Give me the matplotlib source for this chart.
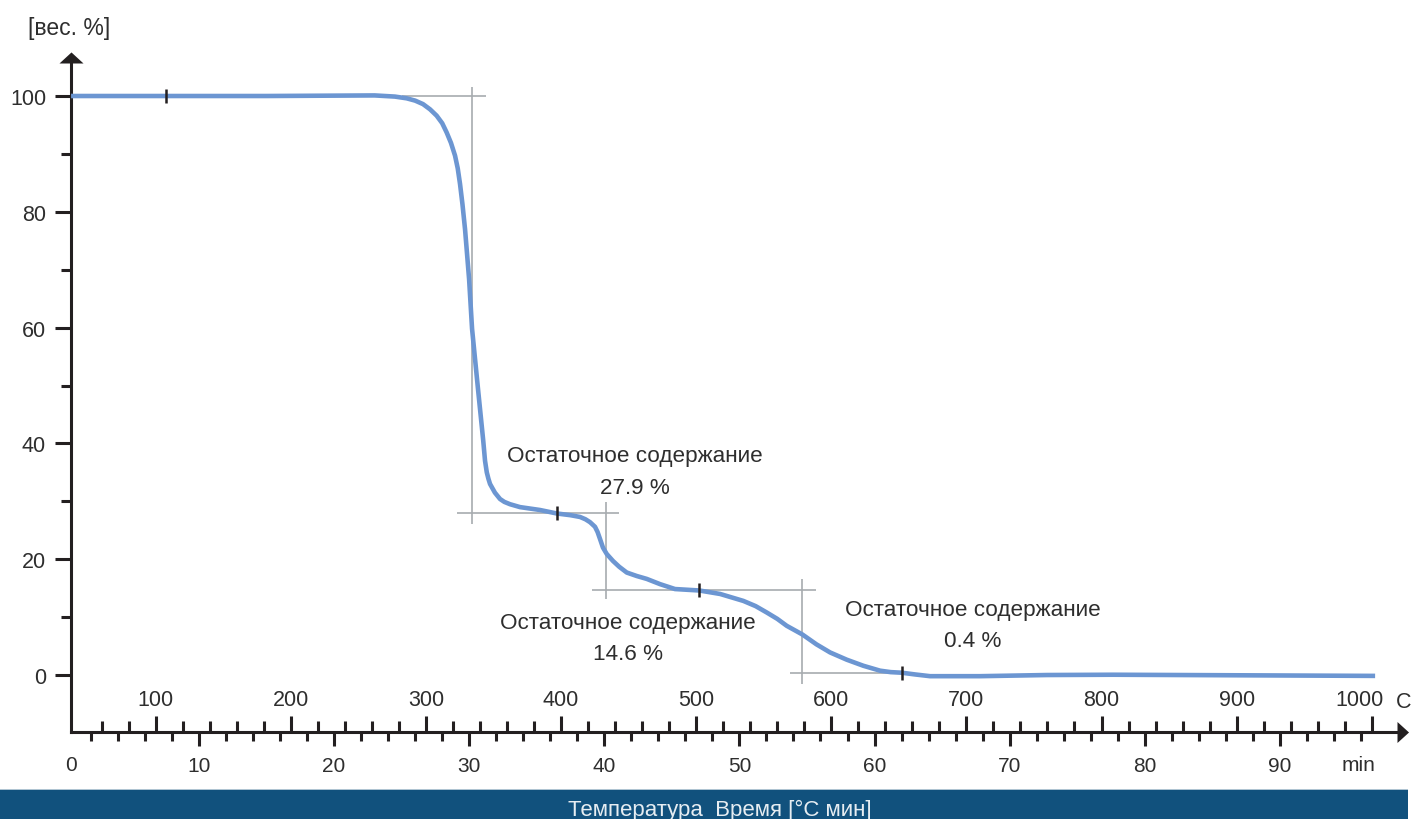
import matplotlib
matplotlib.use("Agg")
import matplotlib.pyplot as plt
from matplotlib.path import Path
from matplotlib.patches import Rectangle
from matplotlib.ticker import FixedLocator
from matplotlib.transforms import ScaledTranslation

plt.rcParams['font.family'] = ['Liberation Sans', 'DejaVu Sans']

# --- TGA curve: remaining mass [wt %] versus time [min] ---
time_min = [0.53, 7.56, 15.0, 23.0, 24.5, 25.37, 26.0, 26.58, 27.1, 27.59,
            28.0, 28.33, 28.65, 28.95, 29.15, 29.32, 29.5, 29.69, 29.99, 30.21,
            30.65, 31.04, 31.17, 31.3, 31.42, 31.54, 31.9, 32.28, 32.6, 33.02,
            33.76, 35.24, 36.48, 37.5, 38.2, 38.6, 38.94, 39.31, 39.5, 39.68,
            39.9, 40.18, 40.64, 41.1, 41.66, 42.4, 43.14, 44.12, 45.23, 47.03,
            48.57, 50.29, 51.2, 52.02, 52.8, 53.5, 54.66, 55.7, 56.71, 57.94,
            59.17, 60.41, 61.2, 62.01, 63.0, 64.11, 67.8, 72.75, 77.65, 97.05]
mass_pct = [100.0, 100.0, 100.0, 100.1, 99.9, 99.6, 99.2, 98.6, 97.7, 96.6,
            95.3, 93.7, 91.9, 89.7, 87.5, 84.8, 81.3, 77.0, 68.4, 59.8,
            49.4, 40.4, 37.0, 35.0, 33.9, 33.0, 31.5, 30.4, 29.9, 29.5,
            29.0, 28.5, 27.9, 27.6, 27.3, 26.9, 26.4, 25.6, 24.7, 23.5,
            22.0, 20.9, 19.7, 18.7, 17.7, 17.1, 16.6, 15.7, 14.85, 14.6,
            14.0, 12.8, 11.9, 10.8, 9.7, 8.5, 7.0, 5.3, 3.9, 2.65,
            1.6, 0.75, 0.5, 0.4, 0.1, -0.2, -0.2, 0.0, 0.05, -0.15]

# Marks placed on the curve at the evaluation points
mark_time = [7.56, 36.48, 47.03, 62.01]
mark_mass = [100.0, 27.9, 14.6, 0.4]

# Residual mass of each decomposition step
residue_value = [27.9, 14.6, 0.4]
residue_text_t = [42.27, 41.76, 67.3]
residue_text_w = [35.15, 6.39, 8.64]

# Construction lines: horizontal (level, t_start, t_end) and vertical (t, w_top, w_bottom)
guide_h_level = [100.0, 27.9, 14.6, 0.4]
guide_h_t0 = [25.0, 29.1, 39.1, 53.75]
guide_h_t1 = [31.25, 41.1, 55.68, 62.5]
guide_v_t = [30.18, 40.1, 54.66]
guide_v_top = [101.5, 29.9, 16.5]
guide_v_bottom = [26.1, 13.1, -1.55]

# Heating programme: T = T0 + rate * t
T0 = 32.0
rate = 10.0

time_major = list(range(10, 100, 10))
time_minor = [m for m in range(2, 98, 2) if m % 10]
temp_major = list(range(100, 1100, 100))
temp_minor = [v for v in range(60, 1000, 20) if v % 100]
y_major = list(range(0, 120, 20))
y_minor = list(range(10, 100, 20))

AXIS = '#231F20'
TEXT = '#2E2E2E'
CURVE = '#6C96D2'
GUIDE = '#A7ABAF'
BAR = '#11517D'

W, H = 1415, 820
fig = plt.figure(figsize=(W / 100, H / 100), dpi=100)
ax = fig.add_axes([71 / W, (H - 733) / H, (1397 - 71) / W, (733 - 64) / H])
ax.set_xlim(0.5255, 98.67)
ax.set_ylim(-9.84, 105.70)

for side in ('top', 'right'):
    ax.spines[side].set_visible(False)
for side in ('left', 'bottom'):
    ax.spines[side].set_color(AXIS)
    ax.spines[side].set_linewidth(2.2)
    ax.spines[side].set_capstyle('projecting')

# Arrow heads on the axes
up = Path([(-1, 0), (1, 0), (0, 0.92), (-1, 0)],
          [Path.MOVETO, Path.LINETO, Path.LINETO, Path.CLOSEPOLY])
right = Path([(0, -1), (0, 1), (1.1, 0), (0, -1)],
             [Path.MOVETO, Path.LINETO, Path.LINETO, Path.CLOSEPOLY])
ax.plot([0], [1], marker=up, ms=17.3, color=AXIS, mew=0,
        transform=ax.transAxes, clip_on=False)
ax.plot([1], [0], marker=right, ms=16.6, color=AXIS, mew=0,
        transform=ax.transAxes, clip_on=False)

# Time axis (below the line)
ax.xaxis.set_major_locator(FixedLocator(time_major))
ax.xaxis.set_minor_locator(FixedLocator(time_minor))
ax.tick_params(axis='x', which='major', direction='out', length=10, width=2.2,
               color=AXIS, labelsize=15, labelcolor=TEXT, pad=7.5)
ax.tick_params(axis='x', which='minor', direction='out', length=6.5, width=2.2,
               color=AXIS)

# Mass axis
ax.yaxis.set_major_locator(FixedLocator(y_major))
ax.yaxis.set_minor_locator(FixedLocator(y_minor))
ax.tick_params(axis='y', which='major', direction='out', length=11.5, width=2.2,
               color=AXIS, labelsize=15.5, labelcolor=TEXT, pad=6.5)
ax.tick_params(axis='y', which='minor', direction='out', length=7, width=2.2,
               color=AXIS)

# Temperature axis (above the line)
sec = ax.secondary_xaxis(0, functions=(lambda t: T0 + rate * t,
                                       lambda T: (T - T0) / rate))
sec.set_alignment('top')
for sp in sec.spines.values():
    sp.set_visible(False)
sec.xaxis.set_major_locator(FixedLocator(temp_major))
sec.xaxis.set_minor_locator(FixedLocator(temp_minor))
sec.tick_params(axis='x', which='major', direction='out', length=11.5, width=2.2,
                color=AXIS, labelsize=15.5, labelcolor=TEXT, pad=4.5)
sec.tick_params(axis='x', which='minor', direction='out', length=8, width=2.2,
                color=AXIS)

# Axis end labels
ax.annotate('0', xy=(0, 0), xycoords='axes fraction', xytext=(0, -23.5),
            textcoords='offset points', ha='center', va='center',
            fontsize=15, color=TEXT, annotation_clip=False)
ax.annotate('min', xy=(95.8, 0), xycoords=('data', 'axes fraction'),
            xytext=(0, -23.5), textcoords='offset points', ha='center',
            va='center', fontsize=15, color=TEXT, annotation_clip=False)
ax.annotate('C', xy=(1, 0), xycoords='axes fraction', xytext=(5, 21.8),
            textcoords='offset points', ha='center', va='center',
            fontsize=15.5, color=TEXT, annotation_clip=False)
fig.text(69 / W, 1 - 28 / H, '[вес. %]', ha='center', va='center',
         fontsize=16.5, color=TEXT)

# Construction lines
for lvl, t0, t1 in zip(guide_h_level, guide_h_t0, guide_h_t1):
    ax.plot([t0, t1], [lvl, lvl], color=GUIDE, lw=1.2, zorder=2,
            solid_capstyle='butt')
for t, w0, w1 in zip(guide_v_t, guide_v_top, guide_v_bottom):
    ax.plot([t, t], [w0, w1], color=GUIDE, lw=1.2, zorder=2,
            solid_capstyle='butt', clip_on=False)

# Mass-loss curve
ax.plot(time_min, mass_pct, color=CURVE, lw=3.3, zorder=3,
        solid_joinstyle='round', solid_capstyle='butt')
ax.plot(mark_time, mark_mass, linestyle='none', marker='|', ms=10.5, mew=1.8,
        color=AXIS, zorder=4)

# Residue annotations
for val, tx, wy in zip(residue_value, residue_text_t, residue_text_w):
    ax.text(tx, wy, f'Остаточное содержание\n{val:.1f} %', ha='center',
            va='center', multialignment='center', linespacing=1.65,
            fontsize=16.2, color=TEXT, zorder=5)

# Footer bar with the axis title
fig.patches.append(Rectangle((0, 0), 1408 / W, 29 / H, transform=fig.transFigure,
                             facecolor=BAR, edgecolor='none', zorder=0))
fig.patches.append(Rectangle((0, 29 / H), 1408 / W, 1.5 / H,
                             transform=fig.transFigure, facecolor='#AFC4D2',
                             edgecolor='none', zorder=0))
fig.text(720 / W, 4 / H, 'Температура  Время [°C мин]', ha='center',
         va='baseline', fontsize=16, color='#E6EDF2')

# Nudge the last temperature label left so it clears the unit letter
fig.canvas.draw()
last = sec.xaxis.get_major_ticks()[-1]
shift = ScaledTranslation(-0.12, 0, fig.dpi_scale_trans)
for lab in (last.label1, last.label2):
    lab.set_transform(lab.get_transform() + shift)

fig.savefig('out.png', dpi=100)
